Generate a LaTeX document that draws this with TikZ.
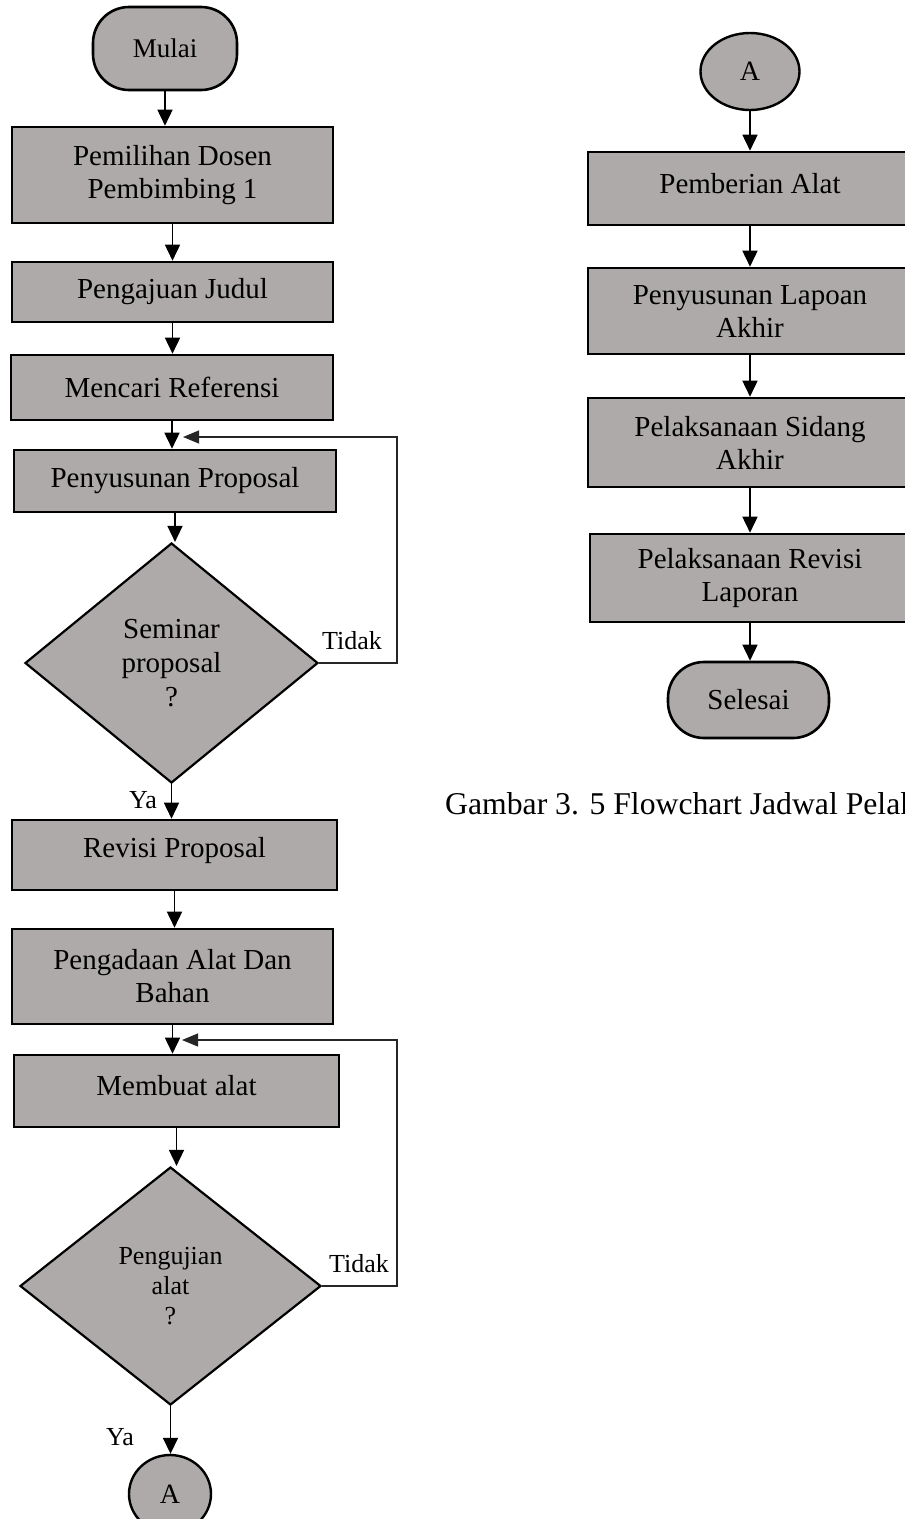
\documentclass[tikz,border=0pt]{standalone}
\usepackage{fontspec}
\setmainfont{Liberation Serif}
\usetikzlibrary{arrows.meta,shapes.geometric,calc}
\definecolor{boxgray}{HTML}{AEAAAA}
\begin{document}
\begin{tikzpicture}[x=1pt,y=-1pt,
 proc/.style={draw, line width=2.6pt, fill=boxgray, rectangle, inner sep=0pt, align=center, font=\fontsize{29}{33}\selectfont},
 term/.style={proc, rounded corners=36pt},
 dec/.style={draw, line width=2.2pt, fill=boxgray, diamond, inner sep=0pt, align=center},
 conn/.style={draw, line width=2.4pt, fill=boxgray, ellipse, inner sep=0pt, font=\fontsize{28}{32}\selectfont},
 arr/.style={line width=1.6pt, -{Triangle[length=16pt,width=15pt]}},
 loopline/.style={line width=1.1pt, draw=black!85, -{Triangle[length=16pt,width=13pt]}},
 lbl/.style={font=\fontsize{26}{30}\selectfont, inner sep=0pt},
]
\useasboundingbox (0,0) rectangle (905,1519);
\clip (0,0) rectangle (905,1519);

% left column
\node[term, minimum width=144pt, minimum height=83pt, font=\fontsize{27}{31}\selectfont] (mulai) at (165,48.5) {Mulai};
\node[proc, minimum width=321pt, minimum height=96pt] (b1) at (172.5,175) {Pemilihan Dosen\\Pembimbing 1};
\node[proc, minimum width=321pt, minimum height=60pt] (b2) at (172.5,292) {Pengajuan Judul};
\node[proc, minimum width=322pt, minimum height=65pt] (b3) at (172,387.5) {Mencari Referensi};
\node[proc, minimum width=322pt, minimum height=62pt] (b4) at (175,481) {Penyusunan Proposal};
\node[dec, minimum width=293pt, minimum height=240pt, font=\fontsize{29}{34}\selectfont] (d1) at (171.5,663) {Seminar\\proposal\\?};
\node[proc, minimum width=325pt, minimum height=70pt] (b5) at (174.5,855) {\raisebox{16pt}{Revisi Proposal}};
\node[proc, minimum width=321pt, minimum height=95pt] (b6) at (172.5,976.5) {Pengadaan Alat Dan\\Bahan};
\node[proc, minimum width=325pt, minimum height=72pt] (b7) at (176.5,1091) {\raisebox{12pt}{Membuat alat}};
\node[dec, minimum width=301pt, minimum height=238pt, font=\fontsize{26}{30}\selectfont] (d2) at (170.5,1286) {Pengujian\\alat\\?};
\node[conn, minimum width=82pt, minimum height=78pt] (a1) at (170,1494) {A};

\draw[arr] (mulai.south) -- (mulai.south |- b1.north);
\draw[arr] (b1.south) -- (b1.south |- b2.north);
\draw[arr] (b2.south) -- (b2.south |- b3.north);
\draw[arr] (b3.south) -- (b3.south |- b4.north);
\draw[arr] (b4.south) -- (b4.south |- d1.north);
\draw[arr] (d1.south) -- (d1.south |- b5.north);
\draw[arr] (b5.south) -- (b5.south |- b6.north);
\draw[arr] (b6.south) -- (b6.south |- b7.north);
\draw[arr] (b7.south) -- (b7.south |- d2.north);
\draw[arr] (d2.south) -- (d2.south |- a1.north);

\coordinate (j1) at (183,437);
\coordinate (r1) at (397,437);
\draw[loopline] (d1.east) -| (r1) -- (j1);
\coordinate (j2) at (182,1040);
\coordinate (r2) at (397,1040);
\draw[loopline] (d2.east) -| (r2) -- (j2);

\node[lbl] (tidak1) at (352,641) {Tidak};
\node[lbl] (ya1) at (143,800) {Ya};
\node[lbl] (tidak2) at (359,1264) {Tidak};
\node[lbl] (ya2) at (120,1437) {Ya};

% right column
\node[conn, minimum width=99pt, minimum height=77pt] (a2) at (750,71.5) {A};
\node[proc, minimum width=324pt, minimum height=73pt] (r1b) at (750,188.5) {\raisebox{11pt}{Pemberian Alat}};
\node[proc, minimum width=324pt, minimum height=86pt] (r2b) at (750,311) {Penyusunan Lapoan\\Akhir};
\node[proc, minimum width=324pt, minimum height=89pt] (r3b) at (750,442.5) {Pelaksanaan Sidang\\Akhir};
\node[proc, minimum width=320pt, minimum height=88pt] (r4b) at (750,578) {Pelaksanaan Revisi\\Laporan};
\node[term, minimum width=161pt, minimum height=76pt] (selesai) at (748.5,700) {Selesai};

\draw[arr] (a2.south) -- (a2.south |- r1b.north);
\draw[arr] (r1b.south) -- (r1b.south |- r2b.north);
\draw[arr] (r2b.south) -- (r2b.south |- r3b.north);
\draw[arr] (r3b.south) -- (r3b.south |- r4b.north);
\draw[arr] (r4b.south) -- (r4b.south |- selesai.north);

\node[anchor=base west, inner sep=0pt, font=\fontsize{31.7}{35}\selectfont] (cap) at (445,814) {Gambar 3. 5 Flowchart Jadwal Pelak};
\end{tikzpicture}
\end{document}
